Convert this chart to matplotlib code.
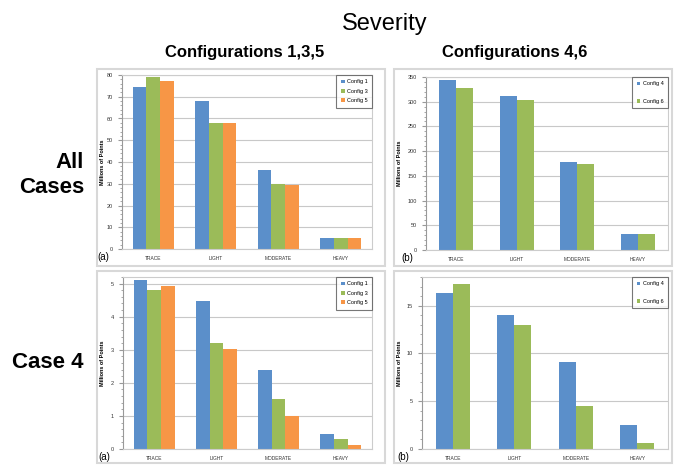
import matplotlib.pyplot as plt
import numpy as np
from matplotlib.patches import Rectangle
from matplotlib.ticker import MultipleLocator

plt.rcParams['font.family'] = ['Liberation Sans', 'DejaVu Sans']

categories = ['Trace', 'Light', 'Moderate', 'Heavy']

# all cases, configurations 1,3,5
all_135 = {
    'Config 1': [74.4, 68.1, 36.4, 5.0],
    'Config 3': [79.1, 57.9, 29.8, 5.0],
    'Config 5': [77.4, 57.9, 29.3, 5.0],
}
# all cases, configurations 4,6
all_46 = {
    'Config 4': [343.9, 312.0, 179.0, 33.0],
    'Config 6': [328.4, 304.0, 173.0, 33.0],
}
# case 4, configurations 1,3,5
case4_135 = {
    'Config 1': [5.12, 4.48, 2.38, 0.45],
    'Config 3': [4.82, 3.19, 1.50, 0.31],
    'Config 5': [4.92, 3.03, 1.00, 0.11],
}
# case 4, configurations 4,6
case4_46 = {
    'Config 4': [16.3, 14.05, 9.13, 2.49],
    'Config 6': [17.27, 12.98, 4.50, 0.62],
}

colors = ['#5b8fca', '#9bbb59', '#f79646']

W, H = 674, 465
fig = plt.figure(figsize=(W / 100, H / 100), dpi=100)


def px_axes(left, top, right, bottom):
    return fig.add_axes([left / W, 1 - bottom / H, (right - left) / W, (bottom - top) / H])


def draw_panel(ax, data, ymax, major, minor, tag, bar_w, leg_spacing, label_off):
    x = np.arange(len(categories))
    n = len(data)
    for i, (name, vals) in enumerate(data.items()):
        off = (i - (n - 1) / 2) * bar_w
        ax.bar(x + off, vals, bar_w, color=colors[i], label=name, zorder=2)
    ax.set_xlim(-0.5, len(categories) - 0.5)
    ax.set_ylim(0, ymax)
    ax.yaxis.set_major_locator(MultipleLocator(major))
    ax.yaxis.set_minor_locator(MultipleLocator(minor))
    ax.grid(axis='y', color='#c8c8c8', linewidth=0.8, zorder=0)
    ax.set_xticks(x)
    ax.set_xticklabels([c.upper() for c in categories], fontsize=3.5, color='#333333')
    ax.tick_params(axis='x', length=0, pad=5)
    ax.tick_params(axis='y', which='major', labelsize=4, length=3, color='#999999', labelcolor='#333333')
    ax.tick_params(axis='y', which='minor', length=1.5, color='#999999')
    for s in ax.spines.values():
        s.set_color('#cccccc')
        s.set_linewidth(0.8)
    ax.spines['left'].set_color('#999999')
    ax.set_ylabel('Millions of Points', fontsize=4, fontweight='bold')
    w_px = ax.get_position().width * W
    ax.yaxis.set_label_coords(-label_off / w_px, 0.5)
    leg = ax.legend(loc='upper right', fontsize=4, frameon=True, fancybox=False,
                    labelspacing=leg_spacing, handlelength=0.7, handleheight=0.7,
                    borderpad=0.8, handletextpad=0.4, borderaxespad=0)
    leg.get_frame().set_edgecolor('#555555')
    leg.get_frame().set_linewidth(0.8)
    ax.text(-0.1, -0.02, tag, transform=ax.transAxes, fontsize=7, ha='left', va='top')


ax1 = px_axes(122, 75, 372, 249)
draw_panel(ax1, all_135, 80, 10, 2, '(a)', 0.22, 0.8, 17)
ax2 = px_axes(426, 77, 668, 250)
draw_panel(ax2, all_46, 350, 50, 10, '(b)', 0.28, 2.2, 24)
ax3 = px_axes(123, 277, 372, 449)
draw_panel(ax3, case4_135, 5.2, 1, 0.2, '(a)', 0.22, 0.8, 18)
ax4 = px_axes(422, 277, 668, 449)
draw_panel(ax4, case4_46, 18, 5, 1, '(b)', 0.28, 2.2, 20)

# panel frames
for (l, t, r, b) in [(97, 69, 385, 266), (394, 69, 672, 266),
                     (97, 271, 385, 463), (394, 271, 672, 463)]:
    fig.add_artist(Rectangle((l / W, 1 - b / H), (r - l) / W, (b - t) / H,
                             transform=fig.transFigure, fill=False,
                             edgecolor='#d8d8d8', linewidth=1.5))

fig.text(385 / W, 1 - 24 / H, 'Severity', fontsize=17, ha='center', va='center')
fig.text(245 / W, 1 - 52 / H, 'Configurations 1,3,5', fontsize=12, fontweight='bold', ha='center', va='center')
fig.text(515 / W, 1 - 52 / H, 'Configurations 4,6', fontsize=12, fontweight='bold', ha='center', va='center')
fig.text(84 / W, 1 - 175 / H, 'All\nCases', fontsize=16, fontweight='bold', ha='right', va='center',
         multialignment='right', linespacing=1.25)
fig.text(84 / W, 1 - 362 / H, 'Case 4', fontsize=16, fontweight='bold', ha='right', va='center')

fig.savefig('out.png', dpi=100)
